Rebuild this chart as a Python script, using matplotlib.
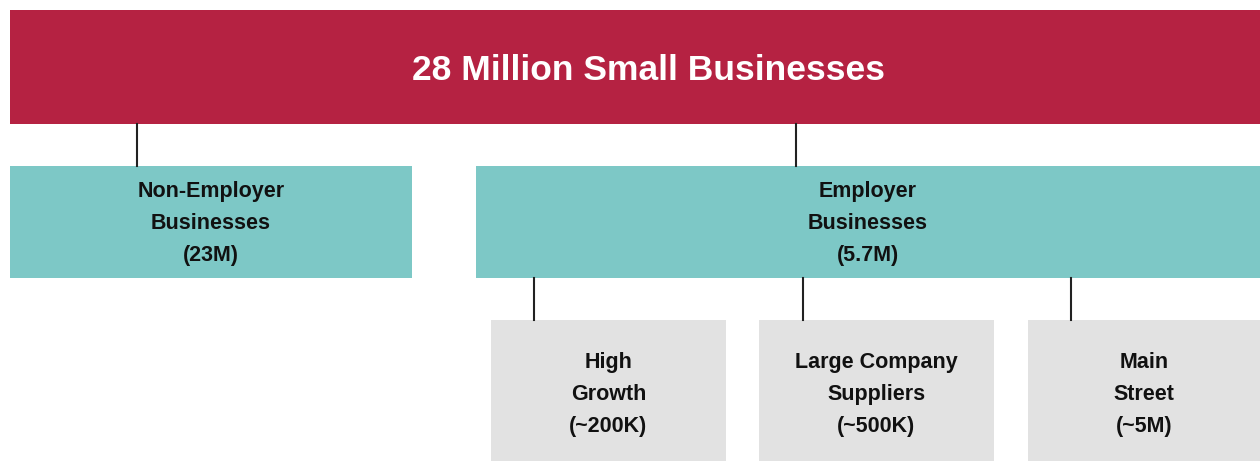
import matplotlib
matplotlib.use('Agg')
from matplotlib import pyplot as plt
from matplotlib.patches import Rectangle

# labels of the tree
title = '28 Million Small Businesses'
level1_labels = ['Non-Employer\nBusinesses\n(23M)', 'Employer\nBusinesses\n(5.7M)']
level2_labels = ['High\nGrowth\n(~200K)', 'Large Company\nSuppliers\n(~500K)', 'Main\nStreet\n(~5M)']

RED = '#B52242'
TEAL = '#7DC8C6'
GREY = '#E2E2E2'

# layout in pixels (x0, x1)
top_box = (10, 1260, 10, 124)
level1_boxes = [(10, 412), (476, 1260)]
level1_y = (166, 278)
level1_links = [137, 796]
level2_boxes = [(491, 726), (759, 994), (1028, 1260)]
level2_y = (320, 470)
level2_links = [534, 803, 1071]

fig = plt.figure(figsize=(12.6, 4.61), dpi=100)
ax = fig.add_axes([0, 0, 1, 1])
ax.set_xlim(0, 1260)
ax.set_ylim(461, 0)
ax.axis('off')

font = ['Liberation Sans', 'DejaVu Sans']

x0, x1, y0, y1 = top_box
ax.add_patch(Rectangle((x0, y0), x1 - x0, y1 - y0, color=RED, lw=0))
ax.text((x0 + x1) / 2.0 + 14, (y0 + y1) / 2.0 + 4, title, color='white', fontsize=25.5,
        fontweight='bold', ha='center', va='center', family=font)

for x in level1_links:
    ax.plot([x, x], [y1, level1_y[0]], color='#222222', lw=1.5)

for (a, b), label in zip(level1_boxes, level1_labels):
    ax.add_patch(Rectangle((a, level1_y[0]), b - a, level1_y[1] - level1_y[0], color=TEAL, lw=0))
    ax.text((a + b) / 2.0, 223.5, label, fontsize=15.5, fontweight='bold', ha='center',
            va='center', linespacing=1.67, family=font, color='#111111')

for x in level2_links:
    ax.plot([x, x], [level1_y[1], level2_y[0]], color='#222222', lw=1.5)

for (a, b), label in zip(level2_boxes, level2_labels):
    ax.add_patch(Rectangle((a, level2_y[0]), b - a, level2_y[1] - level2_y[0], color=GREY, lw=0))
    ax.text((a + b) / 2.0, 394.5, label, fontsize=15.5, fontweight='bold', ha='center',
            va='center', linespacing=1.67, family=font, color='#111111')

plt.savefig('out.png', dpi=100)
